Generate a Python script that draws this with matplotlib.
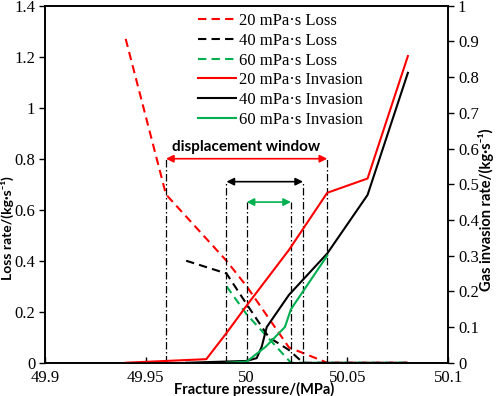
import matplotlib.pyplot as plt

# Loss rate (left axis, kg/s)
loss20_x = [49.94, 49.96, 49.99, 50.0, 50.021, 50.04, 50.08]
loss20_y = [1.27, 0.66, 0.40, 0.30, 0.06, 0.0, 0.0]
loss40_x = [49.97, 49.99, 50.0, 50.011, 50.021, 50.028, 50.08]
loss40_y = [0.40, 0.35, 0.23, 0.10, 0.05, 0.0, 0.0]
loss60_x = [49.99, 50.0, 50.011, 50.022, 50.08]
loss60_y = [0.30, 0.19, 0.095, 0.0, 0.0]

# Gas invasion rate (right axis, kg/s)
inv20_x = [49.94, 49.98, 49.99, 50.0, 50.021, 50.04, 50.06, 50.08]
inv20_y = [0.0, 0.01, 0.083, 0.16, 0.316, 0.476, 0.516, 0.859]
inv40_x = [49.97, 50.0, 50.005, 50.0075, 50.01, 50.021, 50.04, 50.06, 50.08]
inv40_y = [0.0, 0.005, 0.013, 0.045, 0.10, 0.19, 0.306, 0.47, 0.812]
inv60_x = [49.99, 50.0, 50.0095, 50.019, 50.022, 50.04]
inv60_y = [0.0, 0.003, 0.045, 0.10, 0.15, 0.30]

# Displacement windows (20, 40, 60 mPa·s)
win_left = [49.96, 49.99, 50.0]
win_right = [50.04, 50.028, 50.022]
win_level = [0.8, 0.71, 0.63]

colors = ["#ff0000", "#000000", "#00b050"]
visc = ["20", "40", "60"]

x_ticks = [49.9, 49.95, 50.0, 50.05, 50.1]
x_labels = ["49.9", "49.95", "50", "50.05", "50.1"]
yl_ticks = [0, 0.2, 0.4, 0.6, 0.8, 1.0, 1.2, 1.4]
yl_labels = ["0", "0.2", "0.4", "0.6", "0.8", "1", "1.2", "1.4"]
yr_ticks = [0, 0.1, 0.2, 0.3, 0.4, 0.5, 0.6, 0.7, 0.8, 0.9, 1.0]
yr_labels = ["0", "0.1", "0.2", "0.3", "0.4", "0.5", "0.6", "0.7", "0.8", "0.9", "1"]

serif = ["Liberation Serif", "DejaVu Serif"]
sans = ["Lato", "DejaVu Sans"]

fig = plt.figure(figsize=(4.98, 3.96), dpi=100)
ax = fig.add_axes([0.0904, 0.084, 0.8096, 0.9016])
ax2 = ax.twinx()

lw = 1.5
dash = (4, 2.5)
loss = [(loss20_x, loss20_y), (loss40_x, loss40_y), (loss60_x, loss60_y)]
inv = [(inv20_x, inv20_y), (inv40_x, inv40_y), (inv60_x, inv60_y)]

handles = []
for (x, y), c, v in zip(loss, colors, visc):
    h, = ax.plot(x, y, color=c, lw=lw, dashes=dash, label=v + " mPa·s Loss")
    handles.append(h)
for (x, y), c, v in zip(inv, colors, visc):
    h, = ax2.plot(x, y, color=c, lw=lw, label=v + " mPa·s Invasion")
    handles.append(h)

# window markers
for xl, xr, yv, c in zip(win_left, win_right, win_level, colors):
    for xv in (xl, xr):
        ax.plot([xv, xv], [0, yv], color="black", lw=0.9,
                linestyle=(0, (6, 2, 1.2, 2)))
    ax.annotate("", xy=(xl, yv), xytext=(xr, yv),
                arrowprops=dict(arrowstyle="<|-|>", color=c, lw=1.2,
                                mutation_scale=11, shrinkA=0, shrinkB=0))
ax.text(49.9995, 0.845, "displacement window", ha="center", va="center",
        fontsize=11, fontweight="bold", family=sans)

ax.set_xlim(49.9, 50.1)
ax.set_ylim(0, 1.4)
ax2.set_ylim(0, 1.0)
ax.set_xticks(x_ticks)
ax.set_xticklabels(x_labels)
ax.set_yticks(yl_ticks)
ax.set_yticklabels(yl_labels)
ax2.set_yticks(yr_ticks)
ax2.set_yticklabels(yr_labels)

ax.tick_params(axis="x", direction="in", length=4, width=1, labelsize=12, pad=5)
ax.tick_params(axis="y", direction="out", length=4, width=1, labelsize=12, pad=3)
ax2.tick_params(axis="y", direction="out", length=4, width=1, labelsize=12, pad=3)
for a in (ax, ax2):
    for lab in a.get_xticklabels() + a.get_yticklabels():
        lab.set_family(serif)
    for s in a.spines.values():
        s.set_linewidth(1.2)

ax.set_xlabel("Fracture pressure/(MPa)", fontsize=10.5, fontweight="bold", family=sans)
ax.xaxis.set_label_coords(0.519, -0.053)
ax.set_ylabel("Loss rate/(kg·s⁻¹)", fontsize=10, fontweight="bold", family=sans)
ax.yaxis.set_label_coords(-0.077, 0.377)
ax2.set_ylabel("Gas invasion rate/(kg·s⁻¹)", fontsize=10.5, fontweight="bold", family=sans)
ax2.yaxis.set_label_coords(1.074, 0.428)

ax2.legend(handles=handles, loc="upper left", bbox_to_anchor=(0.36, 1.0),
           frameon=False, prop={"family": serif, "size": 12},
           handlelength=2.3, handletextpad=0.2, labelspacing=0.22,
           borderaxespad=0.05)

fig.savefig("out.png", dpi=100)
